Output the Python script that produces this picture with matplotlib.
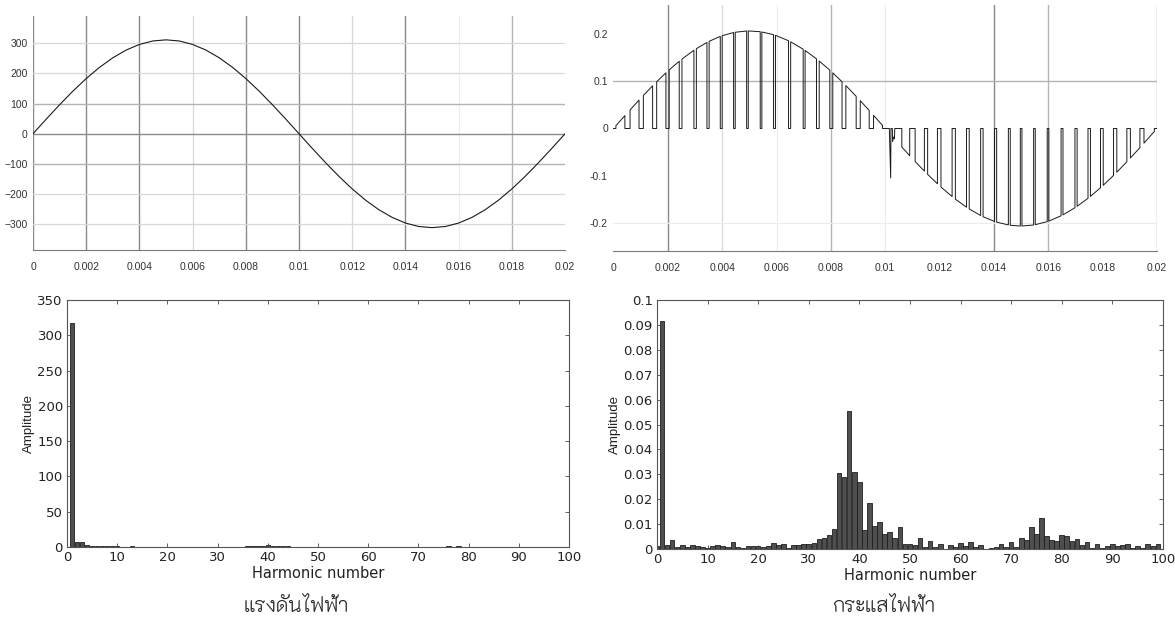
import numpy as np
import matplotlib
matplotlib.use("Agg")
import matplotlib.pyplot as plt
from matplotlib import font_manager
from fontTools.ttLib import TTFont


# ---- voltage waveform (V), sampled every 0.5 ms over one 50 Hz cycle ----
t_volt = np.linspace(0, 0.02, 41)
v_volt = [0, 48.7, 96.1, 141.2, 182.8, 219.9, 251.6, 277.1, 295.8, 307.2,
          311.0, 307.2, 295.8, 277.1, 251.6, 219.9, 182.8, 141.2, 96.1, 48.7,
          0, -48.7, -96.1, -141.2, -182.8, -219.9, -251.6, -277.1, -295.8, -307.2,
          -311.0, -307.2, -295.8, -277.1, -251.6, -219.9, -182.8, -141.2, -96.1, -48.7, 0]

# ---- chopped current (A): each pulse switches on at *_on, off at *_off ----
pos_on = [0.00009, 0.00061, 0.0011, 0.00159, 0.00205, 0.00252, 0.00305, 0.00352, 0.004, 0.00448,
          0.00496, 0.00546, 0.00596, 0.00652, 0.00705, 0.00757, 0.00807, 0.00855, 0.00908, 0.00957]
pos_off = [0.00042, 0.00094, 0.00144, 0.00193, 0.00242, 0.00296, 0.00344, 0.00393, 0.00442, 0.0049,
           0.0054, 0.00589, 0.00644, 0.00698, 0.00747, 0.00796, 0.00841, 0.00893, 0.00941, 0.0099]
pos_i_on = [0.0059, 0.0394, 0.0701, 0.0992, 0.1243, 0.1473, 0.1693, 0.1850, 0.1969, 0.2042,
            0.2070, 0.2048, 0.1977, 0.1839, 0.1656, 0.1431, 0.1180, 0.0911, 0.0590, 0.0279]
pos_i_off = [0.0272, 0.0602, 0.0905, 0.1180, 0.1427, 0.1660, 0.1826, 0.1954, 0.2036, 0.2069,
             0.2054, 0.1990, 0.1862, 0.1682, 0.1477, 0.1238, 0.0992, 0.0683, 0.0382, 0.0065]

spike_t = [0.01015, 0.0102, 0.01021, 0.01026, 0.01027, 0.01031, 0.01034, 0.01035]
spike_i = [0, -0.105, 0, 0, -0.028, -0.018, -0.022, 0]

neg_on = [0.01061, 0.0111, 0.01156, 0.01205, 0.01258, 0.01309, 0.0136, 0.0141, 0.0146, 0.01503,
          0.01552, 0.01602, 0.01654, 0.01706, 0.01755, 0.01802, 0.01852, 0.01902, 0.01952]
neg_off = [0.0109, 0.01144, 0.01192, 0.01246, 0.01299, 0.01351, 0.01402, 0.01453, 0.01497, 0.01546,
           0.01596, 0.01647, 0.01698, 0.01746, 0.01792, 0.0184, 0.01889, 0.01937, 0.0199]
neg_i_on = [-0.0394, -0.0701, -0.0974, -0.1243, -0.1500, -0.1708, -0.1873, -0.1988, -0.2054, -0.2070,
            -0.2042, -0.1965, -0.1833, -0.1651, -0.1441, -0.1206, -0.0928, -0.0627, -0.0311]
neg_i_off = [-0.0578, -0.0905, -0.1174, -0.1445, -0.1671, -0.1847, -0.1973, -0.2047, -0.2070, -0.2048,
             -0.1977, -0.1853, -0.1682, -0.1482, -0.1259, -0.0997, -0.0707, -0.0407, -0.0065]

# ---- harmonic spectra, harmonic 0..100 ----
harmonics = np.arange(101)
volt_amp = [0, 317, 7, 7, 3.2, 1.5, 1.0, 1.4, 1.0, 0.8,
            1.3, 0.7, 0.5, 0.8, 0.4, 0.3, 0.4, 0.3, 0.3, 0.4,
            0.3, 0.3, 0.4, 0.3, 0.3, 0.3, 0.3, 0.3, 0.3, 0.3,
            0.3, 0.3, 0.4, 0.4, 0.5, 0.6, 1.2, 0.8, 1.8, 1.0,
            2.2, 1.2, 1.4, 0.8, 1.2, 0.5, 0.5, 0.4, 0.6, 0.3,
            0.3, 0.3, 0.4, 0.3, 0.3, 0.3, 0.3, 0.3, 0.3, 0.3,
            0.3, 0.3, 0.3, 0.3, 0.3, 0.3, 0.3, 0.3, 0.3, 0.3,
            0.3, 0.3, 0.4, 0.3, 0.6, 0.4, 0.9, 0.5, 0.8, 0.4,
            0.6, 0.5, 0.7, 0.5, 0.3, 0.3, 0.3, 0.3, 0.3, 0.3,
            0.3, 0.3, 0.3, 0.3, 0.3, 0.3, 0.3, 0.3, 0.3, 0.3, 0]
curr_amp = [0.0013, 0.0915, 0.0016, 0.0036, 0.0008, 0.0018, 0.0007, 0.0017, 0.0013, 0.0010,
            0.0003, 0.0012, 0.0016, 0.0013, 0.0009, 0.0029, 0.0010, 0.0004, 0.0012, 0.0012,
            0.0011, 0.0007, 0.0012, 0.0023, 0.0017, 0.0019, 0.0004, 0.0015, 0.0017, 0.0019,
            0.0022, 0.0023, 0.0042, 0.0043, 0.0056, 0.0079, 0.0307, 0.0290, 0.0553, 0.0310,
            0.0270, 0.0076, 0.0185, 0.0094, 0.0108, 0.0062, 0.0067, 0.0045, 0.0089, 0.0019,
            0.0019, 0.0016, 0.0043, 0.0010, 0.0031, 0.0008, 0.0019, 0.0002, 0.0016, 0.0008,
            0.0023, 0.0013, 0.0030, 0.0008, 0.0015, 0.0002, 0.0006, 0.0007, 0.0019, 0.0009,
            0.0027, 0.0008, 0.0046, 0.0037, 0.0087, 0.0062, 0.0124, 0.0053, 0.0038, 0.0033,
            0.0057, 0.0051, 0.0034, 0.0039, 0.0016, 0.0027, 0.0005, 0.0022, 0.0004, 0.0013,
            0.0022, 0.0013, 0.0016, 0.0019, 0.0003, 0.0013, 0.0003, 0.0020, 0.0012, 0.0020, 0]

captions = ["แรงดันไฟฟ้า", "กระแสไฟฟ้า"]

time_ticks = [0, 0.002, 0.004, 0.006, 0.008, 0.01, 0.012, 0.014, 0.016, 0.018, 0.02]
time_labels = ["0", "0.002", "0.004", "0.006", "0.008", "0.01", "0.012", "0.014", "0.016", "0.018", "0.02"]
volt_ticks = [-300, -200, -100, 0, 100, 200, 300]
curr_ticks = [-0.2, -0.1, 0, 0.1, 0.2]
curr_labels = ["-0.2", "-0.1", "0", "0.1", "0.2"]


def find_thai_font():
    # installed font files carrying the Thai block, lightest weight first
    found = []
    for path in font_manager.findSystemFonts():
        try:
            cmap = TTFont(path, fontNumber=0, lazy=True).getBestCmap()
        except Exception:
            continue
        if cmap and 0x0E01 in cmap and 0x0E49 in cmap:
            found.append(path)
    if not found:
        return None

    def rank(p):
        name = p.lower()
        for i, key in enumerate(["extralight", "light", "regular"]):
            if key in name and "condensed" not in name:
                return (i, len(name))
        if "bold" in name or "black" in name or "semi" in name or "medium" in name:
            return (9, len(name))
        return (5, len(name))
    return sorted(found, key=rank)[0]


def pulses(on, off, i_on, i_off):
    t, i = [], []
    for a, b, va, vb in zip(on, off, i_on, i_off):
        t += [a, a, b, b]
        i += [0, va, vb, 0]
    return t, i


# grid shade per line: 'd' dark, 'm' medium, 'l' light, 'f' faint, '' none
SHADE = {"d": ("#8a8a8a", 1.0), "m": ("#b4b4b4", 1.0), "l": ("#d8d8d8", 0.9), "f": ("#ececec", 0.8)}


def scope_grid(ax, xs, xshade, ys, yshade):
    for x, s in zip(xs, xshade):
        if s:
            ax.axvline(x, color=SHADE[s][0], lw=SHADE[s][1], zorder=0)
    for y, s in zip(ys, yshade):
        if s:
            ax.axhline(y, color=SHADE[s][0], lw=SHADE[s][1], zorder=0)


def scope_style(ax):
    for side in ["top", "right", "left"]:
        ax.spines[side].set_visible(False)
    ax.spines["bottom"].set_color("#7a7a7a")
    ax.tick_params(length=0, labelsize=7.5, labelcolor="#333333")
    ax.tick_params(axis="x", pad=9)
    ax.tick_params(axis="y", pad=4)
    for lab in ax.get_xticklabels() + ax.get_yticklabels():
        lab.set_family(["Liberation Sans", "DejaVu Sans"])


def spectrum_style(ax, ylim, yticks, ylabels):
    ax.set_xlim(0, 100)
    ax.set_ylim(*ylim)
    ax.set_xticks(range(0, 101, 10))
    ax.set_yticks(yticks)
    ax.set_yticklabels(ylabels)
    ax.tick_params(direction="in", top=True, right=True, length=3, width=0.6,
                   labelsize=9.5, labelcolor="#222222", color="#444444", pad=3)
    for sp in ax.spines.values():
        sp.set_color("#555555")
        sp.set_linewidth(0.8)
    ax.set_xlabel("Harmonic number", fontsize=10.5, color="#222222", labelpad=1)
    ax.set_ylabel("Amplitude", fontsize=9.5, color="#222222", labelpad=2,
                  family=["Liberation Sans Narrow", "Liberation Sans", "DejaVu Sans"])


fig = plt.figure(figsize=(11.75, 6.27), dpi=100)

# voltage waveform
ax1 = fig.add_axes([0.0281, 0.6013, 0.4528, 0.3732])
scope_grid(ax1, time_ticks, ["d", "d", "d", "l", "d", "d", "l", "d", "f", "m", ""],
           volt_ticks, ["l", "l", "m", "d", "m", "l", "l"])
ax1.plot(t_volt, v_volt, color="#1a1a1a", lw=0.8)
ax1.set_xlim(0, 0.02)
ax1.set_ylim(-385, 390)
ax1.set_xticks(time_ticks)
ax1.set_xticklabels(time_labels)
ax1.set_yticks(volt_ticks)
scope_style(ax1)

# chopped current waveform
pt, pi = pulses(pos_on, pos_off, pos_i_on, pos_i_off)
nt, ni = pulses(neg_on, neg_off, neg_i_on, neg_i_off)
i_t = [0] + pt + spike_t + nt + [0.02]
i_v = [0] + pi + spike_i + ni + [0]

ax2 = fig.add_axes([0.5221, 0.5997, 0.4626, 0.3923])
scope_grid(ax2, time_ticks, ["", "d", "l", "f", "m", "f", "", "d", "m", "", "m"],
           curr_ticks, ["f", "", "", "m", ""])
ax2.plot(i_t, i_v, color="#1a1a1a", lw=0.7)
ax2.set_xlim(0, 0.02)
ax2.set_ylim(-0.26, 0.262)
ax2.set_xticks(time_ticks)
ax2.set_xticklabels(time_labels)
ax2.set_yticks(curr_ticks)
ax2.set_yticklabels(curr_labels)
scope_style(ax2)

# spectra
ax3 = fig.add_axes([0.0570, 0.1276, 0.4272, 0.3939])
ax3.bar(harmonics, volt_amp, width=0.9, color="#4f4f4f", edgecolor="#1e1e1e", linewidth=0.6)
spectrum_style(ax3, (0, 350), range(0, 351, 50), [str(v) for v in range(0, 351, 50)])

ax4 = fig.add_axes([0.5591, 0.1244, 0.4306, 0.3971])
ax4.bar(harmonics, curr_amp, width=0.9, color="#4f4f4f", edgecolor="#1e1e1e", linewidth=0.6)
curr_amp_ticks = [k / 100 for k in range(11)]
spectrum_style(ax4, (0, 0.1), curr_amp_ticks,
               ["0"] + ["%.2f" % v for v in curr_amp_ticks[1:10]] + ["0.1"])

thai = find_thai_font()
cap_font = font_manager.FontProperties(fname=thai, size=15) if thai else font_manager.FontProperties(size=15)
fig.text(0.252, 0.032, captions[0], fontproperties=cap_font, ha="center", va="center", color="#222222")
fig.text(0.752, 0.032, captions[1], fontproperties=cap_font, ha="center", va="center", color="#222222")

fig.savefig("out.png", dpi=100, facecolor="white")
